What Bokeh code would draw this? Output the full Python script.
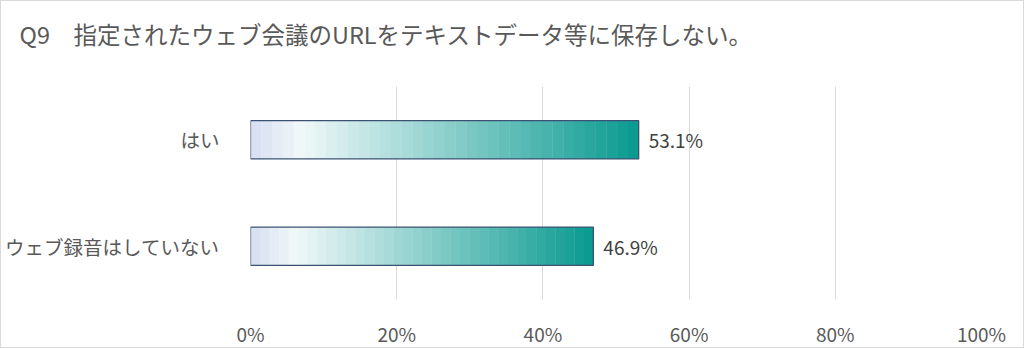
from bokeh.plotting import figure
from bokeh.models import FactorRange, Range1d, FixedTicker, ColumnDataSource
from bokeh.core.properties import value
from bokeh.embed import file_html
from bokeh.resources import INLINE

title_text = "Q9\u3000指定されたウェブ会議のURLをテキストデータ等に保存しない。"
categories = ["ウェブ録音はしていない", "はい"]
values = [46.9, 53.1]
tick_values = [0, 20, 40, 60, 80, 100]
tick_labels = ["0%", "20%", "40%", "60%", "80%", "100%"]

FONT = "Noto Sans CJK JP"


def hex2rgb(h):
    h = h.lstrip("#")
    return tuple(int(h[i:i + 2], 16) for i in (0, 2, 4))


stops = [(0.0, hex2rgb("#d6def2")), (0.13, hex2rgb("#f0f8f9")), (1.0, hex2rgb("#08998f"))]


def grad(t):
    for (t0, c0), (t1, c1) in zip(stops[:-1], stops[1:]):
        if t <= t1:
            f = (t - t0) / (t1 - t0)
            return "#%02x%02x%02x" % tuple(int(round(a + (b - a) * f)) for a, b in zip(c0, c1))
    return "#%02x%02x%02x" % stops[-1][1]


p = figure(width=1024, height=348, output_backend="svg", toolbar_location=None,
           y_range=FactorRange(*categories, range_padding=0), x_range=Range1d(0, 100),
           min_border_left=247, min_border_right=44, min_border_top=85, min_border_bottom=48,
           title=title_text + "\n ")
p.styles = {"border": "1px solid #d9d9d9", "box-sizing": "border-box"}
p.outline_line_color = None
p.background_fill_color = "white"
p.border_fill_color = "white"

p.title.text_font = FONT
p.title.text_font_size = "23.5px"
p.title.text_font_style = "normal"
p.title.text_color = "#595959"
p.title.align = "left"
p.title.vertical_align = "top"
p.title.offset = -231
p.title.standoff = 0

# gradient bars
N = 36
lefts, rights, ys, cols = [], [], [], []
for cat, v in zip(categories, values):
    for i in range(N):
        lefts.append(v * i / N)
        rights.append(v * (i + 1) / N + (0.05 if i < N - 1 else 0))
        ys.append(cat)
        cols.append(grad((i + 0.5) / N))
p.hbar(y=ys, left=lefts, right=rights, height=0.36, fill_color=cols, line_color=None)
p.hbar(y=categories, left=0, right=values, height=0.36, fill_color=None,
       line_color="#3c5275", line_width=1.3)

labels = ["%.1f%%" % v for v in values]
src = ColumnDataSource(dict(x=values, y=categories, t=labels))
p.text(x="x", y="y", text="t", source=src, x_offset=10, text_baseline="middle",
       text_font=value(FONT), text_font_size="19px", text_color="#404040")

p.xgrid.grid_line_color = "#d9d9d9"
p.xgrid.grid_line_width = 1
p.ygrid.grid_line_color = None
p.xaxis.ticker = FixedTicker(ticks=tick_values)
p.xaxis.major_label_overrides = {v: l for v, l in zip(tick_values, tick_labels)}
p.xaxis.axis_line_color = None
p.xaxis.major_tick_line_color = None
p.xaxis.minor_tick_line_color = None
p.xaxis.major_label_standoff = 14
p.xaxis.major_label_text_font = FONT
p.xaxis.major_label_text_font_size = "19px"
p.xaxis.major_label_text_color = "#595959"

p.yaxis.axis_line_color = None
p.yaxis.major_tick_line_color = None
p.yaxis.minor_tick_line_color = None
p.yaxis.major_label_standoff = 25
p.yaxis.major_label_text_font = FONT
p.yaxis.major_label_text_font_size = "19.5px"
p.yaxis.major_label_text_color = "#595959"

open("out.html", "w").write(file_html(p, INLINE))
